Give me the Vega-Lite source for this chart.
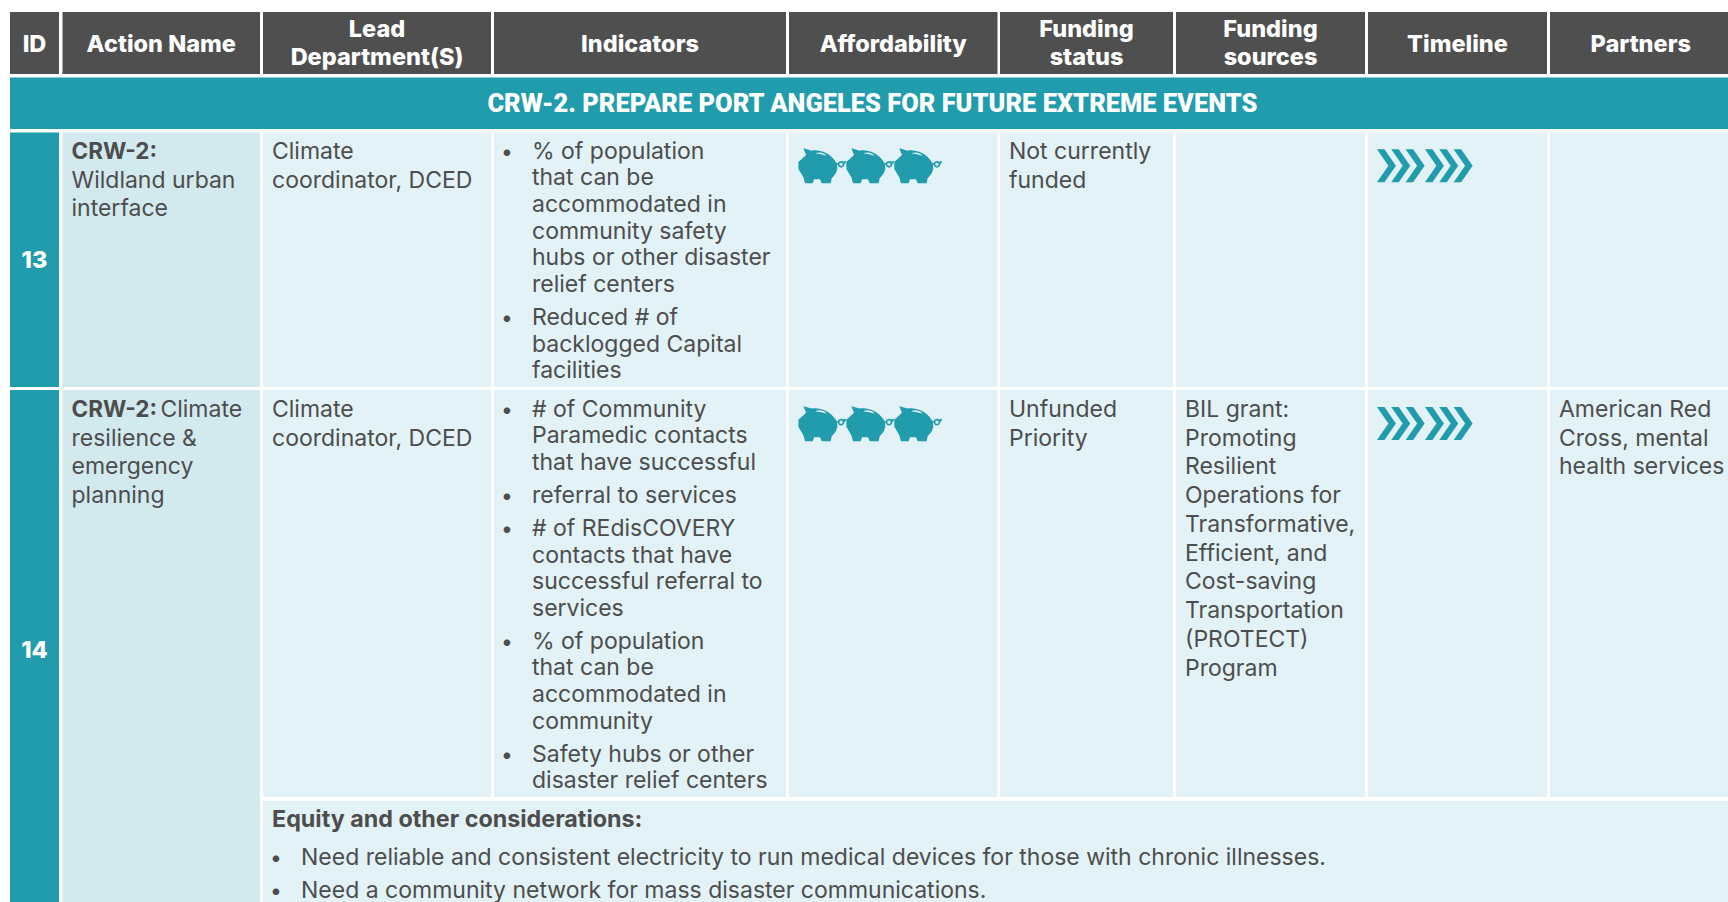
{"$schema":"https://vega.github.io/schema/vega-lite/v6.json","width":1728,"height":902,"padding":0,"autosize":{"type":"none"},"background":"#ffffff","config":{"view":{"stroke":null}},
"data":{"values":[
{"k":"header","c":0,"c2":1,"l":0,"l2":4},{"k":"header","c":2,"c2":3,"l":0,"l2":4},{"k":"header","c":4,"c2":5,"l":0,"l2":4},{"k":"header","c":6,"c2":7,"l":0,"l2":4},{"k":"header","c":8,"c2":9,"l":0,"l2":4},{"k":"header","c":10,"c2":11,"l":0,"l2":4},{"k":"header","c":12,"c2":13,"l":0,"l2":4},{"k":"header","c":14,"c2":15,"l":0,"l2":4},{"k":"header","c":16,"c2":17,"l":0,"l2":4},
{"k":"teal","c":0,"c2":17,"l":5,"l2":7},
{"k":"teal","c":0,"c2":1,"l":8,"l2":22},{"k":"action","c":2,"c2":3,"l":8,"l2":22},{"k":"cell","c":4,"c2":5,"l":8,"l2":22},{"k":"cell","c":6,"c2":7,"l":8,"l2":22},{"k":"cell","c":8,"c2":9,"l":8,"l2":22},{"k":"cell","c":10,"c2":11,"l":8,"l2":22},{"k":"cell","c":12,"c2":13,"l":8,"l2":22},{"k":"cell","c":14,"c2":15,"l":8,"l2":22},{"k":"cell","c":16,"c2":17,"l":8,"l2":22},
{"k":"teal","c":0,"c2":1,"l":23,"l2":52},{"k":"action","c":2,"c2":3,"l":23,"l2":52},{"k":"cell","c":4,"c2":5,"l":23,"l2":47},{"k":"cell","c":6,"c2":7,"l":23,"l2":47},{"k":"cell","c":8,"c2":9,"l":23,"l2":47},{"k":"cell","c":10,"c2":11,"l":23,"l2":47},{"k":"cell","c":12,"c2":13,"l":23,"l2":47},{"k":"cell","c":14,"c2":15,"l":23,"l2":47},{"k":"cell","c":16,"c2":17,"l":23,"l2":47},{"k":"cell","c":4,"c2":17,"l":48,"l2":52},
{"k":"h","t":"ID","c":0.5,"l":2},{"k":"h","t":"Action Name","c":2.5,"l":2},{"k":"h","t":"Lead","c":4.5,"l":1},{"k":"h","t":"Department(S)","c":4.5,"l":3},{"k":"h","t":"Indicators","c":6.5,"l":2},{"k":"h","t":"Affordability","c":8.5,"l":2},{"k":"h","t":"Funding","c":10.5,"l":1},{"k":"h","t":"status","c":10.5,"l":3},{"k":"h","t":"Funding","c":12.5,"l":1},{"k":"h","t":"sources","c":12.5,"l":3},{"k":"h","t":"Timeline","c":14.5,"l":2},{"k":"h","t":"Partners","c":16.51,"l":2},
{"k":"b","t":"CRW-2. PREPARE PORT ANGELES FOR FUTURE EXTREME EVENTS","c":8.4,"l":6},
{"k":"h","t":"13","c":0.5,"l":17},{"k":"h","t":"14","c":0.5,"l":40},
{"k":"strong","t":"CRW-2:","c":2,"l":9},{"k":"plain","t":"Wildland urban","c":2,"l":12},{"k":"plain","t":"interface","c":2,"l":14},
{"k":"plain","t":"Climate","c":4,"l":9},{"k":"plain","t":"coordinator, DCED","c":4,"l":12},
{"k":"bullet","t":"•","c":6,"l":9},{"k":"indent","t":"% of population","c":6,"l":9},{"k":"indent","t":"that can be","c":6,"l":11},{"k":"indent","t":"accommodated in","c":6,"l":13},{"k":"indent","t":"community safety","c":6,"l":15},{"k":"indent","t":"hubs or other disaster","c":6,"l":16},{"k":"indent","t":"relief centers","c":6,"l":18},
{"k":"bullet","t":"•","c":6,"l":19},{"k":"indent","t":"Reduced # of","c":6,"l":19},{"k":"indent","t":"backlogged Capital","c":6,"l":20},{"k":"indent","t":"facilities","c":6,"l":21},
{"k":"plain","t":"Not currently","c":10,"l":9},{"k":"plain","t":"funded","c":10,"l":12},
{"k":"strong","t":"CRW-2:","c":2,"l":24},{"k":"plain","t":"Climate","c":2.45,"l":24},{"k":"plain","t":"resilience &","c":2,"l":27},{"k":"plain","t":"emergency","c":2,"l":29},{"k":"plain","t":"planning","c":2,"l":30},
{"k":"plain","t":"Climate","c":4,"l":24},{"k":"plain","t":"coordinator, DCED","c":4,"l":27},
{"k":"bullet","t":"•","c":6,"l":24},{"k":"indent","t":"# of Community","c":6,"l":24},{"k":"indent","t":"Paramedic contacts","c":6,"l":26},{"k":"indent","t":"that have successful","c":6,"l":28},
{"k":"bullet","t":"•","c":6,"l":30},{"k":"indent","t":"referral to services","c":6,"l":30},
{"k":"bullet","t":"•","c":6,"l":32},{"k":"indent","t":"# of REdisCOVERY","c":6,"l":32},{"k":"indent","t":"contacts that have","c":6,"l":34},{"k":"indent","t":"successful referral to","c":6,"l":35},{"k":"indent","t":"services","c":6,"l":36},
{"k":"bullet","t":"•","c":6,"l":39},{"k":"indent","t":"% of population","c":6,"l":39},{"k":"indent","t":"that can be","c":6,"l":41},{"k":"indent","t":"accommodated in","c":6,"l":43},{"k":"indent","t":"community","c":6,"l":44},
{"k":"bullet","t":"•","c":6,"l":45},{"k":"indent","t":"Safety hubs or other","c":6,"l":45},{"k":"indent","t":"disaster relief centers","c":6,"l":46},
{"k":"plain","t":"Unfunded","c":10,"l":24},{"k":"plain","t":"Priority","c":10,"l":27},
{"k":"plain","t":"BIL grant:","c":12,"l":24},{"k":"plain","t":"Promoting","c":12,"l":27},{"k":"plain","t":"Resilient","c":12,"l":29},{"k":"plain","t":"Operations for","c":12,"l":30},{"k":"plain","t":"Transformative,","c":12,"l":31},{"k":"plain","t":"Efficient, and","c":12,"l":33},{"k":"plain","t":"Cost-saving","c":12,"l":35},{"k":"plain","t":"Transportation","c":12,"l":37},{"k":"plain","t":"(PROTECT)","c":12,"l":38},{"k":"plain","t":"Program","c":12,"l":42},
{"k":"plain","t":"American Red","c":16,"l":24},{"k":"plain","t":"Cross, mental","c":16,"l":27},{"k":"plain","t":"health services","c":16,"l":29},
{"k":"heading","t":"Equity and other considerations:","c":4,"l":49},
{"k":"bullet","t":"•","c":4,"l":50},{"k":"indent","t":"Need reliable and consistent electricity to run medical devices for those with chronic illnesses.","c":4,"l":50},
{"k":"bullet","t":"•","c":4,"l":51},{"k":"indent","t":"Need a community network for mass disaster communications.","c":4,"l":51},
{"k":"pig","c":8.157,"l":10},{"k":"pig","c":8.387,"l":10},{"k":"pig","c":8.617,"l":10},{"k":"pig","c":8.157,"l":25},{"k":"pig","c":8.387,"l":25},{"k":"pig","c":8.617,"l":25},
{"k":"chev","c":14.318,"l":10},{"k":"chev","c":14.318,"l":25}
]},
"encoding":{
"x":{"field":"c","type":"quantitative","axis":null,"scale":{"domain":[0,1,2,3,4,5,6,7,8,9,10,11,12,13,14,15,16,17],"range":[10,59,62.5,260,263,491,494,786,789,997.5,1000,1173,1176,1365,1368,1547,1550,1728],"clamp":false,"nice":false,"zero":false}},
"y":{"field":"l","type":"quantitative","axis":null,"scale":{"domain":[0,1,2,3,4,5,6,7,8,9,10,11,12,13,14,15,16,17,18,19,20,21,22,23,24,25,26,27,28,29,30,31,32,33,34,35,36,37,38,39,40,41,42,43,44,45,46,47,48,49,50,51,52],"range":[12,37.3,51.7,65,74,77.5,111.5,129,132.5,158.5,165.7,185.3,187.6,211.8,216,239,265,267.5,291.7,325,352,378,387,390,416.7,423.5,442.7,446,469.7,474,502.8,531.7,536,560.7,563,588.5,615.7,617.7,646.7,648.5,657.5,674.7,676,702,728.7,762,788,797,801,826.7,864.7,898,902],"nice":false,"zero":false}}
},
"layer":[
{"transform":[{"filter":{"field":"k","oneOf":["header","teal","action","cell"]}}],"mark":{"type":"rect"},"encoding":{"x2":{"field":"c2"},"y2":{"field":"l2"},"color":{"field":"k","type":"nominal","legend":null,"scale":{"domain":["header","teal","action","cell"],"range":["#4f4f4f","#209cac","#d2eaee","#e2f2f6"]}}}},
{"transform":[{"filter":"datum.k==='h'"}],"mark":{"type":"text","font":"Inter","fontSize":23.5,"fontWeight":800,"align":"center","baseline":"alphabetic","fill":"#ffffff"},"encoding":{"text":{"field":"t"}}},
{"transform":[{"filter":"datum.k==='b'"}],"mark":{"type":"text","font":"Roboto","fontSize":25.45,"fontWeight":900,"align":"center","baseline":"alphabetic","fill":"#ffffff"},"encoding":{"text":{"field":"t"}}},
{"transform":[{"filter":"datum.k==='plain'"}],"mark":{"type":"text","font":"Inter","fontSize":23,"fontWeight":400,"align":"left","baseline":"alphabetic","dx":9,"fill":"#4d4d4d"},"encoding":{"text":{"field":"t"}}},
{"transform":[{"filter":"datum.k==='bullet'"}],"mark":{"type":"text","font":"Inter","fontSize":21,"fontWeight":400,"align":"left","baseline":"alphabetic","dx":7,"fill":"#4d4d4d"},"encoding":{"text":{"field":"t"}}},
{"transform":[{"filter":"datum.k==='strong'"}],"mark":{"type":"text","font":"Inter","fontSize":22.5,"fontWeight":700,"align":"left","baseline":"alphabetic","dx":9,"fill":"#4d4d4d"},"encoding":{"text":{"field":"t"}}},
{"transform":[{"filter":"datum.k==='heading'"}],"mark":{"type":"text","font":"Inter","fontSize":23.3,"fontWeight":700,"align":"left","baseline":"alphabetic","dx":9,"fill":"#4d4d4d"},"encoding":{"text":{"field":"t"}}},
{"transform":[{"filter":"datum.k==='indent'"}],"mark":{"type":"text","font":"Inter","fontSize":23,"fontWeight":400,"align":"left","baseline":"alphabetic","dx":38,"fill":"#4d4d4d"},"encoding":{"text":{"field":"t"}}},
{"transform":[{"filter":"datum.k==='pig'"}],"mark":{"type":"point","filled":true,"opacity":1,"size":0.4444,"color":"#209cac","strokeWidth":0,"shape":"M-55,-52 L-30,-45 C-13,-49 25,-42 45,-7 L47,8 C46,20 38,30 30,38 L27,53 L0,53 L-5,41 L-23,41 L-27,53 L-50,53 L-55,35 L-67,15 L-70,10 L-70,-12 L-63,-17 L-47,-32 Z M15,-30 C5,-41 -10,-41 -20,-37 C-8,-35 5,-33 15,-30 Z M68,-4 A10,10 0 1,1 48,-4 A10,10 0 1,1 68,-4 Z M63,-4 A5,5 0 1,0 53,-4 A5,5 0 1,0 63,-4 Z M44,-7 L52,-7 L52,-2 L44,-2 Z M64,-12 L73,-14 L73,-10 L67,-3 L62,-8 Z"}},
{"transform":[{"filter":"datum.k==='chev'"}],"mark":{"type":"point","filled":true,"opacity":1,"size":4,"color":"#209cac","strokeWidth":0,"shape":"M-48,-16.5 L-40.5,-16.5 L-29,0 L-40.5,16.5 L-48,16.5 L-36.5,0 Z M-33.7,-16.5 L-26.2,-16.5 L-14.7,0 L-26.2,16.5 L-33.7,16.5 L-22.2,0 Z M-19.3,-16.5 L-11.8,-16.5 L-0.3,0 L-11.8,16.5 L-19.3,16.5 L-7.8,0 Z M0,-16.5 L7.5,-16.5 L19,0 L7.5,16.5 L0,16.5 L11.5,0 Z M14.3,-16.5 L21.8,-16.5 L33.3,0 L21.8,16.5 L14.3,16.5 L25.8,0 Z M28.7,-16.5 L36.2,-16.5 L47.7,0 L36.2,16.5 L28.7,16.5 L40.2,0 Z"}}
]}
